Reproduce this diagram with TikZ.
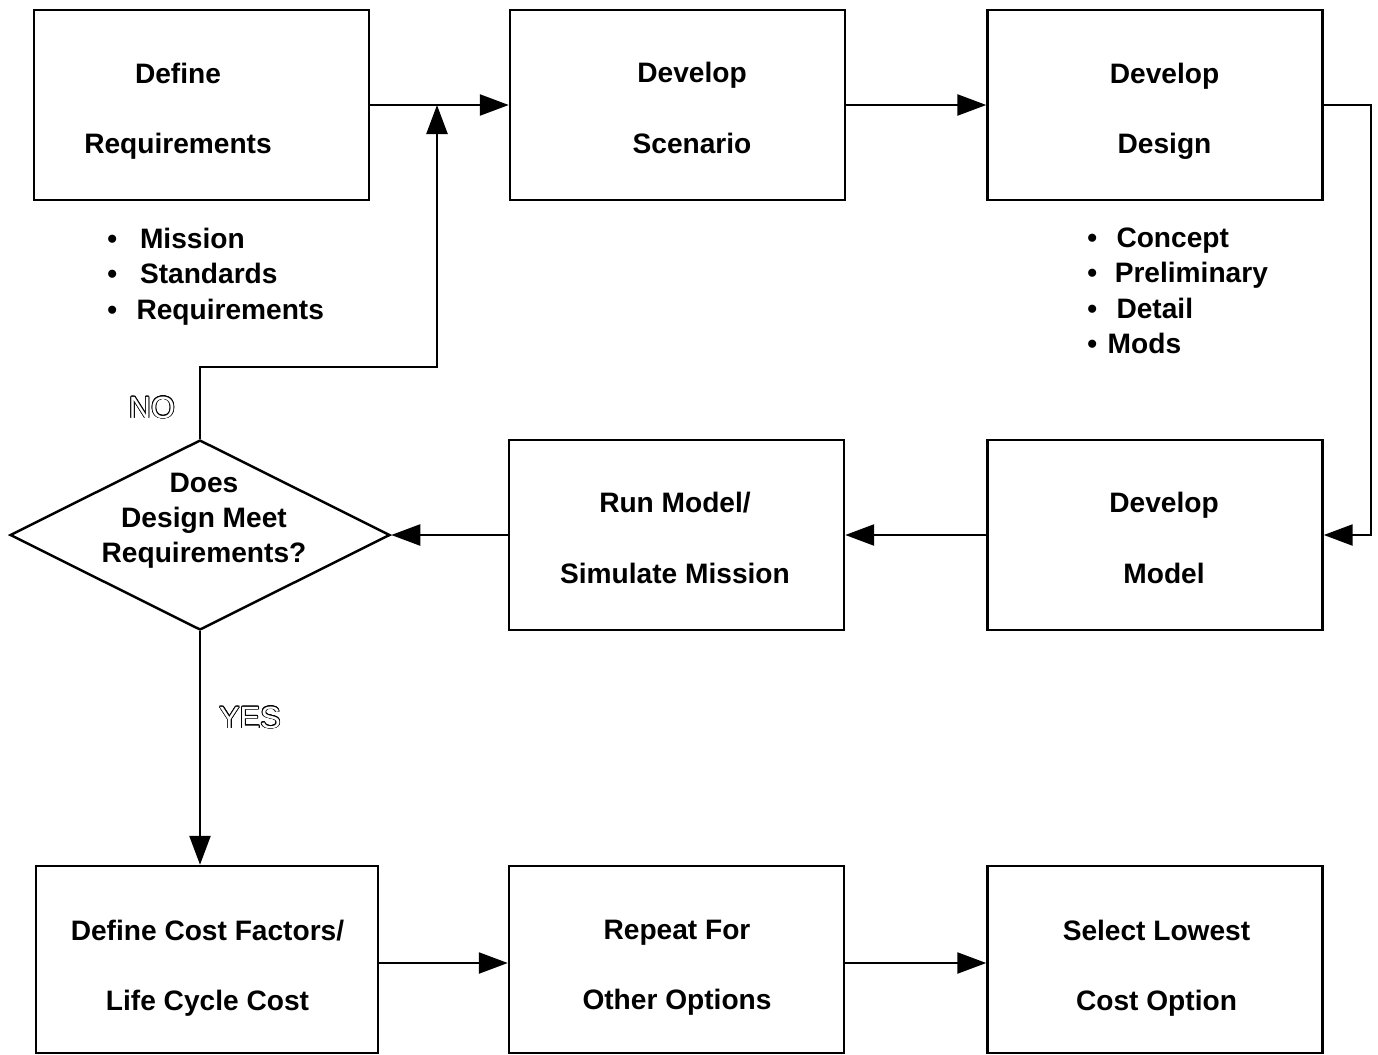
\documentclass[tikz,border=0pt]{standalone}
\usepackage{fontspec}
\setmainfont{Liberation Sans}
\usepackage{contour}
\contourlength{0.45pt}
\usetikzlibrary{shapes.geometric,arrows.meta}

\tikzset{
 box/.style={draw, line width=1.4pt, rectangle, minimum width=6.7cm, minimum height=3.8cm, inner sep=0pt},
 check/.style={draw, line width=1.4pt, diamond, minimum width=7.6cm, minimum height=3.8cm, inner sep=0pt},
 txt/.style={align=center, inner sep=0pt, font=\bfseries\fontsize{16}{40}\selectfont},
 lst/.style={align=left, inner sep=0pt, anchor=north west, font=\bfseries\fontsize{16}{20.2}\selectfont},
 yn/.style={inner sep=0pt, font=\fontsize{17.5}{20}\selectfont},
 arr/.style={line width=1.4pt, -{Triangle[length=0.58cm,width=0.42cm]}}
}

\begin{document}
\begin{tikzpicture}
 \useasboundingbox (0,0) rectangle (27.56,-21.1);

 % top row
 \node[box] (defreq) at (4.03,-2.10) {};
 \node[box] (scen) at (13.55,-2.10) {};
 \node[box] (design) at (23.10,-2.10) {};
 \node[txt] (defreqt) at (3.56,-2.22) {Define\\Requirements};
 \node[txt] (scent) at (13.84,-2.16) {Develop\\Scenario};
 \node[txt] (designt) at (23.29,-2.22) {Develop\\Design};

 \node[lst] (reqlist) at (2.14,-4.55) {\textbullet\hspace{13pt}Mission\\ \textbullet\hspace{13pt}Standards\\ \textbullet\hspace{11pt}Requirements};
 \node[lst] (designlist) at (21.74,-4.55) {\textbullet\hspace{11pt}Concept\\ \textbullet\hspace{10pt}Preliminary\\ \textbullet\hspace{11pt}Detail\\ \textbullet\hspace{6pt}Mods};

 % middle row
 \node[check] (check) at (4.0,-10.70) {};
 \node[box] (run) at (13.53,-10.70) {};
 \node[box] (model) at (23.10,-10.70) {};
 \node[txt, font=\bfseries\fontsize{16}{19.8}\selectfont] (checkt) at (4.08,-10.41) {Does\\Design Meet\\Requirements?};
 \node[txt] (runt) at (13.50,-10.76) {Run Model/\\Simulate Mission};
 \node[txt] (modelt) at (23.28,-10.76) {Develop\\Model};

 % bottom row
 \node[box, minimum width=6.84cm, minimum height=3.74cm] (cost) at (4.14,-19.19) {};
 \node[box, minimum height=3.74cm] (repeat) at (13.53,-19.19) {};
 \node[box, minimum height=3.74cm] (select) at (23.10,-19.19) {};
 \node[txt] (costt) at (4.15,-19.37) {Define Cost Factors/\\Life Cycle Cost};
 \node[txt] (repeatt) at (13.54,-19.36) {Repeat For\\Other Options};
 \node[txt] (selectt) at (23.13,-19.36) {Select Lowest\\Cost Option};

 \node[yn] (no) at (3.04,-8.16) {\contour{black}{\color{white}NO}};
 \node[yn] (yes) at (5.0,-14.36) {\contour{black}{\color{white}YES}};

 \coordinate (join) at (8.74,-2.10);

 \draw[arr] (defreq) -- (scen);
 \draw[arr] (scen) -- (design);
 \draw[arr] (design.east) -- ++(0.94,0) |- (model.east);
 \draw[arr] (model) -- (run);
 \draw[arr] (run) -- (check);
 \draw[arr] (check.north) -- ++(0,1.44) -| (join);
 \draw[arr] (check.south) -- (check.south |- cost.north);
 \draw[arr] ([yshift=-0.07cm]cost.east) -- ([yshift=-0.07cm]repeat.west);
 \draw[arr] ([yshift=-0.07cm]repeat.east) -- ([yshift=-0.07cm]select.west);
\end{tikzpicture}
\end{document}
